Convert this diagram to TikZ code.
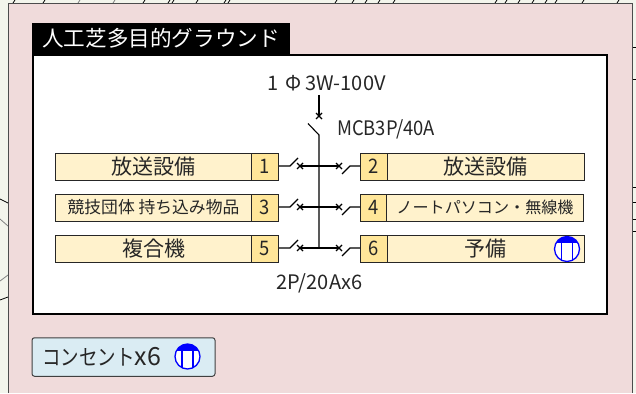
\documentclass[tikz,border=0pt]{standalone}
\usepackage{fontspec}
\setmainfont{Noto Sans CJK JP}
\newfontfamily\narrowf[FakeStretch=0.92]{Noto Sans CJK JP}
\newfontfamily\kanaf[FakeStretch=0.84]{Noto Sans CJK JP}
\definecolor{pinkbg}{HTML}{F0DBDB}
\definecolor{outerbg}{HTML}{F3F5EC}
\definecolor{labelfill}{HTML}{FFF2CC}
\definecolor{numfill}{HTML}{FFE699}
\definecolor{legendfill}{HTML}{DAECF3}
\definecolor{inkc}{HTML}{262626}
\definecolor{outblue}{HTML}{0000FF}
\tikzset{
  lab/.style={draw=inkc,line width=1pt,fill=labelfill,minimum width=197pt,minimum height=27pt,inner sep=0pt,text=inkc,font=\fontsize{21}{21}\selectfont},
  labsmall/.style={lab,font=\fontsize{16.8}{17}\selectfont},
  numbox/.style={draw=inkc,line width=1pt,fill=numfill,minimum width=27pt,minimum height=27pt,inner sep=0pt,text=inkc,font=\narrowf\fontsize{20}{20}\selectfont},
  plain/.style={inner sep=0pt,text=inkc,font=\narrowf\fontsize{20}{20}\selectfont},
  wider/.style={inner sep=0pt,text=inkc,font=\fontsize{20}{20}\selectfont},
  wire/.style={line width=1.1pt,draw=black},
  tick/.style={line width=.8pt,draw=black},
  outlet/.pic={
    \fill[white] (0,0) circle (12.5);
    \begin{scope}
      \clip (0,0) circle (12.5);
      \fill[outblue] (-13,-13) rectangle (13,-6);
    \end{scope}
    \draw[outblue,line width=1.3pt] (0,0) circle (12.5);
    \draw[outblue,line width=1.3pt] (-5.5,-7) -- (-5.5,11.5) (5.5,-7) -- (5.5,11.5);
  }
}
\begin{document}
\begin{tikzpicture}[x=1pt,y=-1pt]
\useasboundingbox (0,0) rectangle (636,393);
\fill[outerbg] (0,0) rectangle (636,393);
% background fragments around the panel
\foreach \x in {13,43,143,168,172,196,224,228,335,352,365,378,393,495,505,518,532,545,555,582,617}
  \draw[tick] (\x,3) -- (\x+2,0);
\foreach \x in {78,113} \draw[tick,draw=gray] (\x,3) -- (\x+2,0);
\draw[tick] (0,199) -- (8,203);
\draw[tick,draw=gray] (0,219) -- (8,226);
\draw[tick,draw=gray] (0,281) -- (8,275);
\draw[tick] (0,300) -- (8,297);
\foreach \y in {47,79,187,202,219,231} \draw[tick] (632,\y) -- (636,\y);
% panel
\fill[pinkbg] (8.5,3.5) rectangle (632,393);
\draw[line width=1pt,draw=black!70] (8.5,393) -- (8.5,3.5) -- (632,3.5) -- (632,393);
\node[draw=black,line width=2pt,fill=white,minimum width=574pt,minimum height=259pt,inner sep=0pt] (frame) at (320,184.5) {};
\node[fill=black,minimum width=258pt,minimum height=31pt,inner sep=0pt,text=white,font=\fontsize{21.6}{22}\selectfont] (title) at (161,38.5) {人工芝多目的グラウンド};
% row boxes
\node[lab] (L1) at (153.5,166.5) {放送設備};
\node[numbox] (N1) at (265,166.5) {1};
\node[numbox] (N2) at (374,166.5) {2};
\node[lab] (L2) at (485.5,166.5) {放送設備};
\node[labsmall] (L3) at (153.5,207.5) {競技団体 持ち込み物品};
\node[numbox] (N3) at (265,207.5) {3};
\node[numbox] (N4) at (374,207.5) {4};
\node[lab,font=\fontsize{16.1}{17}\selectfont] (L4) at (485,207.5) {ノートパソコン・無線機};
\node[lab] (L5) at (153.5,248.5) {複合機};
\node[numbox] (N5) at (265,248.5) {5};
\node[numbox] (N6) at (374,248.5) {6};
\node[lab] (L6) at (485.5,248.5) {予備};
\path (567,249) pic {outlet};
% labels
\node[wider] (supply) at (326.5,83) {1\hspace{7pt}Φ\hspace{4pt}3W-100V};
\node[plain,anchor=west] (mcb) at (337,129) {MCB3P/40A};
\node[wider] (rating) at (319.5,283) {2P/20Ax6};
% main breaker and bus
\coordinate (mainx) at (319,116);
\coordinate (maintop) at (319,95);
\coordinate (hinge) at (319,135);
\coordinate (bladeend) at (308,123.5);
\coordinate (busend) at (319,248);
\draw[wire] (maintop) -- (mainx);
\draw[wire] ([shift={(-3,-3)}]mainx) -- ([shift={(3,3)}]mainx) ([shift={(-3,3)}]mainx) -- ([shift={(3,-3)}]mainx);
\draw[wire] (bladeend) -- (hinge) -- (busend);
% branches
\foreach \n/\m/\y in {N1/N2/166,N3/N4/207,N5/N6/248}{
  \coordinate (bl) at (319,\y);
  \coordinate (lx) at (300,\y);
  \coordinate (rx) at (339,\y);
  \draw[wire] (\n.east |- bl) -- (290,\y) -- (298,\y-8);
  \draw[wire] (lx) -- (bl) -- (rx);
  \draw[wire] ([shift={(-3,-3)}]lx) -- ([shift={(3,3)}]lx) ([shift={(-3,3)}]lx) -- ([shift={(3,-3)}]lx);
  \draw[wire] ([shift={(-3,-3)}]rx) -- ([shift={(3,3)}]rx) ([shift={(-3,3)}]rx) -- ([shift={(3,-3)}]rx);
  \draw[wire] (342,\y+8) -- (350,\y) -- (\m.west |- bl);
}
% legend
\node[draw=black!75,line width=1pt,fill=legendfill,rounded corners=2.5pt,minimum width=183pt,minimum height=38.5pt,inner sep=0pt] (legend) at (123.5,357) {};
\node[anchor=west,inner sep=0pt,text=inkc,font=\fontsize{22}{22}\selectfont] (legendtext) at (42,357) {{\kanaf コンセント}{\fontsize{25}{25}\selectfont x6}};
\path (187.5,356.5) pic {outlet};
\end{tikzpicture}
\end{document}
